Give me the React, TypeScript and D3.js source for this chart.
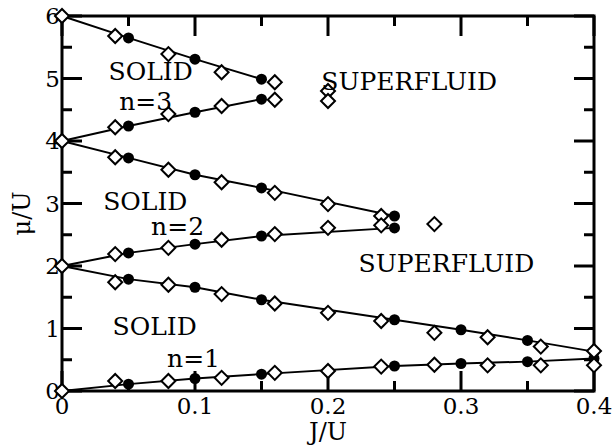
import React, { useEffect, useRef } from "react";
import * as d3 from "d3";

// filled circles + solid lines (boundaries of the lobes)
const lineJ3 = [0, 0.05, 0.1, 0.15];
const upper3 = [6, 5.65, 5.31, 4.99];
const lower3 = [4, 4.24, 4.46, 4.67];
const lineJ2 = [0, 0.05, 0.1, 0.15, 0.25];
const upper2 = [4, 3.73, 3.46, 3.25, 2.8];
const lower2 = [2, 2.21, 2.35, 2.48, 2.61];
const lineJ1 = [0, 0.05, 0.1, 0.15, 0.25, 0.3, 0.35, 0.4];
const upper1 = [2, 1.79, 1.66, 1.46, 1.14, 0.98, 0.81, 0.63];
const lower1 = [0, 0.11, 0.2, 0.27, 0.4, 0.44, 0.47, 0.52];

// open diamonds
const diaJ3 = [0.04, 0.08, 0.12, 0.16];
const diaUp3 = [5.68, 5.39, 5.1, 4.94];
const diaLo3 = [4.22, 4.43, 4.56, 4.66];
const diaJ3b = [0.2, 0.2];
const diaMu3b = [4.8, 4.64];
const diaJ2 = [0.04, 0.08, 0.12, 0.16, 0.2, 0.24];
const diaUp2 = [3.74, 3.54, 3.34, 3.17, 2.99, 2.8];
const diaLo2 = [2.19, 2.29, 2.42, 2.51, 2.61, 2.65];
const diaJ2b = [0.28];
const diaMu2b = [2.67];
const diaJ1 = [0.04, 0.08, 0.12, 0.16, 0.2, 0.24, 0.28, 0.32, 0.36, 0.4];
const diaUp1 = [1.74, 1.7, 1.55, 1.4, 1.25, 1.12, 0.93, 0.86, 0.71, 0.64];
const diaLo1 = [0.16, 0.16, 0.21, 0.29, 0.32, 0.39, 0.42, 0.41, 0.41, 0.41];
const diaJ0 = [0, 0, 0, 0];
const diaMu0 = [6, 4, 2, 0];

const xTicks = [0, 0.1, 0.2, 0.3, 0.4];
const xMinor = [0.05, 0.15, 0.25, 0.35];
const yTicks = [0, 1, 2, 3, 4, 5, 6];
const yMinor = [0.5, 1.5, 2.5, 3.5, 4.5, 5.5];

const labels = [
  { text: "SOLID", x: 0.035, y: 4.97 },
  { text: "n=3", x: 0.043, y: 4.5 },
  { text: "SUPERFLUID", x: 0.195, y: 4.82 },
  { text: "SOLID", x: 0.031, y: 2.9 },
  { text: "n=2", x: 0.067, y: 2.5 },
  { text: "SUPERFLUID", x: 0.223, y: 1.9 },
  { text: "SOLID", x: 0.038, y: 0.9 },
  { text: "n=1", x: 0.079, y: 0.38 },
];

const FONT = '"DejaVu Serif", "Liberation Serif", "Times New Roman", serif';

export default function App() {
  const ref = useRef<SVGSVGElement>(null);

  useEffect(() => {
    const svg = d3.select(ref.current);
    svg.selectAll("*").remove();

    const W = 616;
    const H = 445;
    const margin = { top: 16, right: 22, bottom: 54, left: 62 };
    const x = d3.scaleLinear().domain([0, 0.4]).range([margin.left, W - margin.right]);
    const y = d3.scaleLinear().domain([0, 6]).range([H - margin.bottom, margin.top]);
    const [x0, x1] = x.range();
    const [y0, y1] = y.range();

    svg.attr("width", W).attr("height", H).attr("viewBox", `0 0 ${W} ${H}`);
    svg.style("font-family", FONT);

    // frame
    svg
      .append("rect")
      .attr("x", x0)
      .attr("y", y1)
      .attr("width", x1 - x0)
      .attr("height", y0 - y1)
      .attr("fill", "none")
      .attr("stroke", "#000")
      .attr("stroke-width", 3);

    // ticks on all four sides, pointing inward
    const tg = svg.append("g").attr("stroke", "#000").attr("stroke-width", 3);
    const xt = [
      ...xTicks.map((v) => ({ v, len: 20 })),
      ...xMinor.map((v) => ({ v, len: 10 })),
    ];
    xt.forEach((t) => {
      tg.append("line").attr("x1", x(t.v)).attr("x2", x(t.v)).attr("y1", y0).attr("y2", y0 - t.len);
      tg.append("line").attr("x1", x(t.v)).attr("x2", x(t.v)).attr("y1", y1).attr("y2", y1 + t.len);
    });
    const yt = [
      ...yTicks.map((v) => ({ v, len: 20 })),
      ...yMinor.map((v) => ({ v, len: 10 })),
    ];
    yt.forEach((t) => {
      tg.append("line").attr("y1", y(t.v)).attr("y2", y(t.v)).attr("x1", x0).attr("x2", x0 + t.len);
      tg.append("line").attr("y1", y(t.v)).attr("y2", y(t.v)).attr("x1", x1).attr("x2", x1 - t.len);
    });

    // tick labels
    svg
      .append("g")
      .selectAll("text")
      .data(xTicks)
      .join("text")
      .attr("x", (d) => x(d))
      .attr("y", y0 + 23)
      .attr("text-anchor", "middle")
      .style("font-family", FONT)
      .attr("font-size", 23)
      .text((d) => String(d));
    svg
      .append("g")
      .selectAll("text")
      .data(yTicks)
      .join("text")
      .attr("x", x0 - 2)
      .attr("y", (d) => y(d))
      .attr("dy", "0.36em")
      .attr("text-anchor", "end")
      .style("font-family", FONT)
      .attr("font-size", 23)
      .text((d) => String(d));

    // axis titles
    svg
      .append("text")
      .attr("x", (x0 + x1) / 2)
      .attr("y", H - 5)
      .attr("text-anchor", "middle")
      .style("font-family", FONT)
      .attr("font-size", 24)
      .text("J/U");
    svg
      .append("text")
      .attr("transform", `translate(30,${(y0 + y1) / 2 + 10}) rotate(-90)`)
      .attr("text-anchor", "middle")
      .style("font-family", FONT)
      .attr("font-size", 24)
      .text("μ/U");

    // boundary lines with filled circles
    const line = d3
      .line<[number, number]>()
      .x((d) => x(d[0]))
      .y((d) => y(d[1]));
    const series: [number[], number[]][] = [
      [lineJ3, upper3],
      [lineJ3, lower3],
      [lineJ2, upper2],
      [lineJ2, lower2],
      [lineJ1, upper1],
      [lineJ1, lower1],
    ];
    series.forEach(([js, mus]) => {
      const pts = js.map((j, i) => [j, mus[i]] as [number, number]);
      svg
        .append("path")
        .datum(pts)
        .attr("fill", "none")
        .attr("stroke", "#000")
        .attr("stroke-width", 2)
        .attr("d", line);
      svg
        .append("g")
        .selectAll("circle")
        .data(pts.filter((p) => p[0] > 0))
        .join("circle")
        .attr("cx", (d) => x(d[0]))
        .attr("cy", (d) => y(d[1]))
        .attr("r", 5.5)
        .attr("fill", "#000");
    });

    // open diamonds
    const diamond = d3.symbol().type(d3.symbolSquare).size(98);
    const dia: [number[], number[]][] = [
      [diaJ3, diaUp3],
      [diaJ3, diaLo3],
      [diaJ3b, diaMu3b],
      [diaJ2, diaUp2],
      [diaJ2, diaLo2],
      [diaJ2b, diaMu2b],
      [diaJ1, diaUp1],
      [diaJ1, diaLo1],
      [diaJ0, diaMu0],
    ];
    dia.forEach(([js, mus]) => {
      svg
        .append("g")
        .selectAll("path")
        .data(js.map((j, i) => [j, mus[i]]))
        .join("path")
        .attr("transform", (d) => `translate(${x(d[0])},${y(d[1])}) rotate(45)`)
        .attr("d", diamond)
        .attr("fill", "#fff")
        .attr("stroke", "#000")
        .attr("stroke-width", 2);
    });

    // region labels
    svg
      .append("g")
      .selectAll("text")
      .data(labels)
      .join("text")
      .attr("x", (d) => x(d.x))
      .attr("y", (d) => y(d.y))
      .style("font-family", FONT)
      .attr("font-size", 25)
      .text((d) => d.text);
  }, []);

  return (
    <div style={{ position: "fixed", left: 0, top: 0, width: 616, height: 445, background: "#fff" }}>
      <svg ref={ref} style={{ display: "block" }}></svg>
    </div>
  );
}
